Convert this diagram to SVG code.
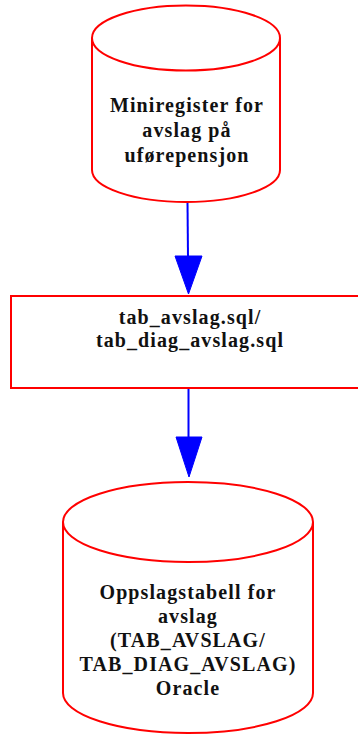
<svg xmlns="http://www.w3.org/2000/svg" width="358" height="735" viewBox="0 0 358 735">
<style>
.shape{fill:#ffffff;stroke:#ff0000;stroke-width:2}
.lbl{font-family:"Liberation Serif","Times New Roman",serif;font-weight:bold;font-size:20px;letter-spacing:1.1px;fill:#111111;text-anchor:middle}
.edge{stroke:#0000ff;stroke-width:2;fill:none}
.head{fill:#0000ff;stroke:#0000ff;stroke-width:1}
</style>
<rect width="358" height="735" fill="#ffffff"/>
<g id="connectors">
<path class="edge" d="M187.5,202 L188,257"/>
<polygon class="head" points="175,256 202,256 188.5,294"/>
<path class="edge" d="M188.5,388 L188.5,438"/>
<polygon class="head" points="176,437 202,437 189,477"/>
</g>
<g id="node-miniregister">
<path class="shape" d="M92,38 A94,32.5 0 0 1 280,38 L280,170 A94,32 0 0 1 92,170 Z"/>
<path class="shape" fill="none" d="M92,38 A94,32.5 0 0 0 280,38"/>
<text class="lbl" x="187" y="112">Miniregister for</text>
<text class="lbl" x="187" y="137">avslag på</text>
<text class="lbl" x="187" y="162">uførepensjon</text>
</g>
<g id="node-sql">
<rect class="shape" x="11" y="296" width="360" height="92"/>
<text class="lbl" x="190" y="324">tab_avslag.sql/</text>
<text class="lbl" x="190" y="347">tab_diag_avslag.sql</text>
</g>
<g id="node-oracle">
<path class="shape" d="M63,522 A125,40 0 0 1 313,522 L313,693 A125,40 0 0 1 63,693 Z"/>
<path class="shape" fill="none" d="M63,522 A125,40 0 0 0 313,522"/>
<text class="lbl" x="188" y="599">Oppslagstabell for</text>
<text class="lbl" x="188" y="623">avslag</text>
<text class="lbl" x="188" y="647">(TAB_AVSLAG/</text>
<text class="lbl" x="188" y="671">TAB_DIAG_AVSLAG)</text>
<text class="lbl" x="188" y="695">Oracle</text>
</g>
</svg>
